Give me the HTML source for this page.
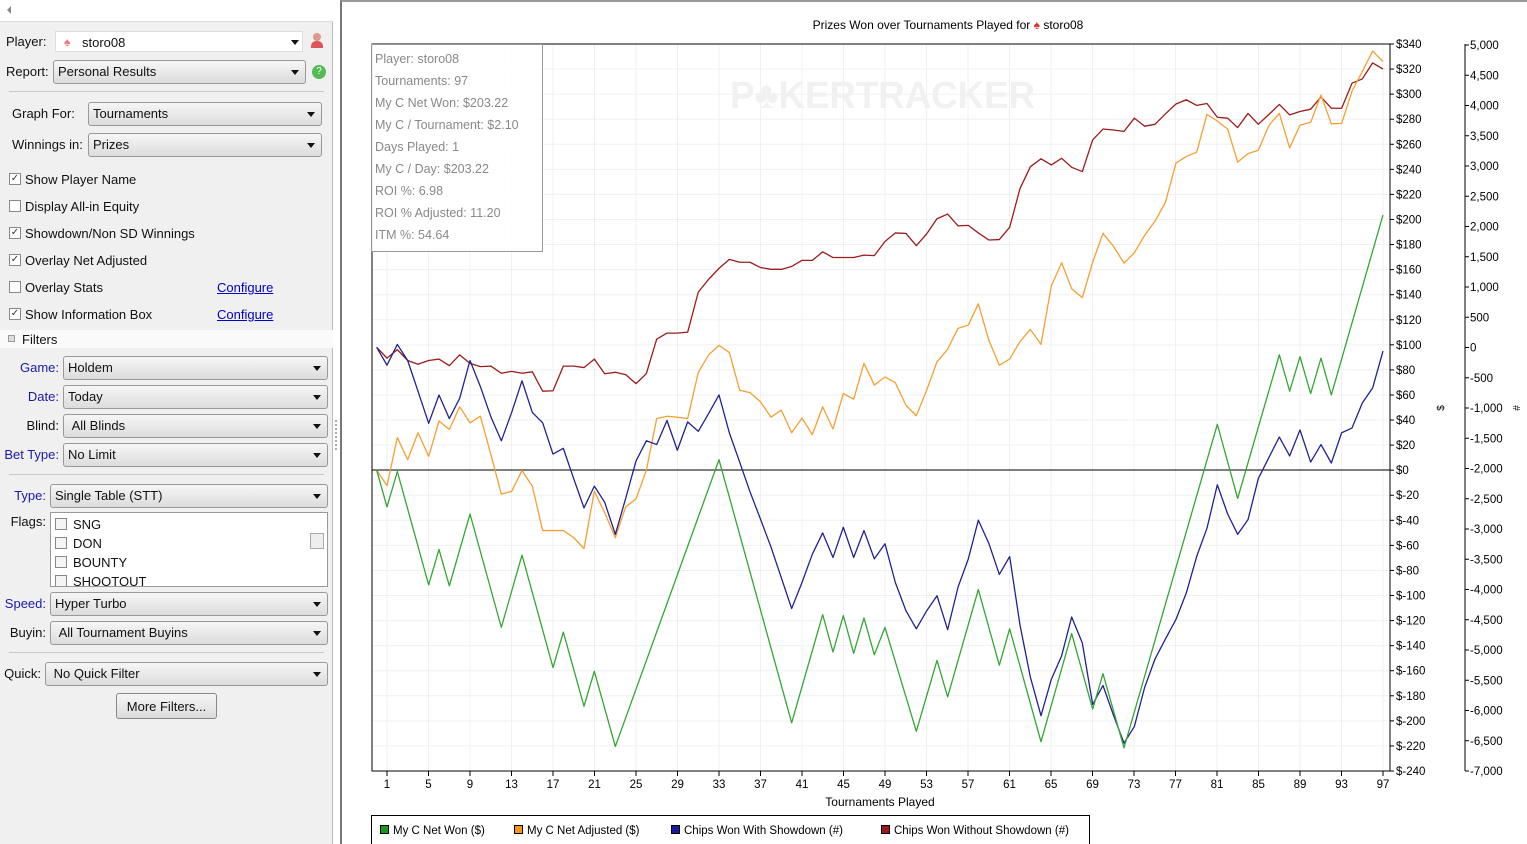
<!DOCTYPE html>
<html><head><meta charset="utf-8"><style>
*{box-sizing:border-box;margin:0;padding:0}
body{width:1527px;height:844px;overflow:hidden;background:#fff;font-family:"Liberation Sans",sans-serif;font-size:13px;color:#111;position:relative}
#lp{position:absolute;left:0;top:0;width:333px;height:844px;background:#f0f0f0;border-right:1px solid #bbb}
.a{position:absolute;white-space:nowrap}
.cb{position:absolute;height:24px;border:1px solid #999;border-radius:3px;background:linear-gradient(#f6f6f6,#dcdcdc);padding:3px 0 0 4px}
.cb:after{content:"";position:absolute;right:6px;top:9px;border-left:4px solid transparent;border-right:4px solid transparent;border-top:5px solid #111}
.lbl{position:absolute;text-align:right}
.blue{color:#1a1aa8}
.ck{position:absolute;width:12px;height:12px;border:1px solid #888;background:#fff;font-size:10px;line-height:10px;text-align:center;color:#334}
.sep{position:absolute;left:9px;width:315px;height:1px;background:#c8c8c8}
.lnk{position:absolute;color:#00c;text-decoration:underline}
</style></head><body>
<div id="lp">
<div class="a" style="left:0;top:0;width:333px;height:22px;background:#fff;border-bottom:1px solid #ddd"></div>
<div class="a" style="left:7px;top:6px;border-top:4px solid transparent;border-bottom:4px solid transparent;border-right:4px solid #888"></div>
<div class="a" style="left:6px;top:34px">Player:</div>
<div class="a" style="left:55px;top:31px;width:248px;height:21px;background:#fff;border:1px solid #ddd;padding:3px 0 0 26px">storo08</div>
<div class="a" style="left:64px;top:35px;color:#e77;font-size:12px">♠</div>
<div class="a" style="left:291px;top:40px;border-left:4px solid transparent;border-right:4px solid transparent;border-top:5px solid #111"></div>
<div class="a" style="left:311px;top:33px;width:12px;height:16px;"><div style="width:8px;height:8px;border-radius:4px;background:#d98;margin-left:2px"></div><div style="width:12px;height:7px;border-radius:5px 5px 0 0;background:#d55"></div></div>
<div class="a" style="left:6px;top:64px">Report:</div>
<div class="cb" style="left:53px;top:60px;width:253px">Personal Results</div>
<div class="a" style="left:312px;top:65px;width:14px;height:14px;border-radius:7px;background:#5b5;color:#fff;font-size:10px;text-align:center;line-height:14px">?</div>
<div class="sep" style="top:91px"></div>
<div class="a" style="left:12px;top:106px">Graph For:</div>
<div class="cb" style="left:88px;top:102px;width:234px">Tournaments</div>
<div class="a" style="left:12px;top:137px">Winnings in:</div>
<div class="cb" style="left:88px;top:133px;width:234px">Prizes</div>
<div class="ck" style="left:9px;top:173px">✓</div><div class="a" style="left:25px;top:172px">Show Player Name</div>
<div class="ck" style="left:9px;top:200px"></div><div class="a" style="left:25px;top:199px">Display All-in Equity</div>
<div class="ck" style="left:9px;top:227px">✓</div><div class="a" style="left:25px;top:226px">Showdown/Non SD Winnings</div>
<div class="ck" style="left:9px;top:254px">✓</div><div class="a" style="left:25px;top:253px">Overlay Net Adjusted</div>
<div class="ck" style="left:9px;top:281px"></div><div class="a" style="left:25px;top:280px">Overlay Stats</div>
<div class="lnk" style="left:217px;top:280px">Configure</div>
<div class="ck" style="left:9px;top:308px">✓</div><div class="a" style="left:25px;top:307px">Show Information Box</div>
<div class="lnk" style="left:217px;top:307px">Configure</div>
<div class="a" style="left:0;top:330px;width:333px;height:18px;background:#fafafa"></div>
<div class="a" style="left:8px;top:335px;width:7px;height:7px;border:1px solid #999;background:#ddd"></div>
<div class="a" style="left:22px;top:332px">Filters</div>
<div class="lbl blue" style="left:0;width:59px;top:360px">Game:</div>
<div class="cb" style="left:63px;top:356px;width:265px">Holdem</div>
<div class="lbl blue" style="left:0;width:59px;top:389px">Date:</div>
<div class="cb" style="left:63px;top:385px;width:265px">Today</div>
<div class="lbl" style="left:0;width:59px;top:418px">Blind:</div>
<div class="cb" style="left:63px;top:414px;width:265px">&nbsp;All Blinds</div>
<div class="lbl blue" style="left:0;width:59px;top:447px">Bet Type:</div>
<div class="cb" style="left:63px;top:443px;width:265px">No Limit</div>
<div class="sep" style="top:474px"></div>
<div class="lbl blue" style="left:0;width:46px;top:488px">Type:</div>
<div class="cb" style="left:50px;top:484px;width:278px">Single Table (STT)</div>
<div class="lbl" style="left:0;width:46px;top:514px">Flags:</div>
<div class="a" style="left:50px;top:512px;width:278px;height:75px;background:#fff;border:1px solid #999;overflow:hidden">
<div class="ck" style="left:4px;top:5px;background:#f4f4f4"></div><div class="a" style="left:22px;top:4px">SNG</div>
<div class="ck" style="left:4px;top:24px;background:#f4f4f4"></div><div class="a" style="left:22px;top:23px">DON</div>
<div class="ck" style="left:4px;top:43px;background:#f4f4f4"></div><div class="a" style="left:22px;top:42px">BOUNTY</div>
<div class="ck" style="left:4px;top:62px;background:#f4f4f4"></div><div class="a" style="left:22px;top:61px">SHOOTOUT</div>
<div class="a" style="left:259px;top:20px;width:14px;height:16px;border:1px solid #aaa;background:#eee"></div>
</div>
<div class="lbl blue" style="left:0;width:46px;top:596px">Speed:</div>
<div class="cb" style="left:50px;top:592px;width:278px">Hyper Turbo</div>
<div class="lbl" style="left:0;width:46px;top:625px">Buyin:</div>
<div class="cb" style="left:50px;top:621px;width:278px">&nbsp;All Tournament Buyins</div>
<div class="sep" style="top:652px"></div>
<div class="lbl" style="left:0;width:41px;top:666px">Quick:</div>
<div class="cb" style="left:45px;top:662px;width:283px">&nbsp;No Quick Filter</div>
<div class="a" style="left:116px;top:693px;width:101px;height:26px;border:1px solid #888;border-radius:3px;background:linear-gradient(#f6f6f6,#dcdcdc);text-align:center;padding-top:5px">More Filters...</div>
</div>
<div class="a" style="left:335px;top:420px;width:2px;height:30px;border-left:2px dotted #aaa"></div>
<div class="a" style="left:340px;top:0;width:1187px;height:844px;border-left:2px solid #777;border-top:2px solid #999"></div>

<svg class="a" style="left:0;top:0" width="1527" height="844" font-family="Liberation Sans, sans-serif">
<g stroke="#f0f0f0" stroke-width="1" id="grid"></g>
<text x="730" y="108" font-size="38" font-weight="bold" fill="#f1f1f1" textLength="305" lengthAdjust="spacingAndGlyphs">P♣KERTRACKER</text>
<line x1="372" y1="470" x2="1390" y2="470" stroke="#000" stroke-width="1"/>
<g transform="translate(370,39.28) scale(0.33333,0.47237)" fill="none" stroke-width="1.3" stroke-linejoin="round">
<polyline vector-effect="non-scaling-stroke" stroke="#9b1c1c" points="20,652 51,675 82,657 113,680 144,688 176,680 207,677 238,691 269,668 300,686 331,693 363,692 394,707 425,703 456,707 487,704 518,745 549,744 580,692 611,692 642,695 673,677 704,708 736,705 767,710 798,729 829,708 860,635 891,622 922,622 953,620 985,535 1016,508 1047,485 1078,466 1109,472 1140,472 1171,483 1203,487 1234,487 1265,481 1296,468 1327,468 1358,450 1389,462 1420,462 1451,462 1482,457 1513,458 1545,428 1576,410 1608,411 1639,437 1670,412 1701,380 1733,370 1764,395 1795,394 1825,410 1857,425 1888,424 1919,398 1950,316 1981,270 2013,253 2044,266 2075,252 2105,271 2137,280 2168,213 2199,190 2230,192 2262,195 2293,167 2324,184 2355,180 2386,158 2418,137 2449,128 2480,140 2511,136 2542,165 2573,167 2603,187 2634,157 2665,180 2697,159 2728,138 2759,160 2790,153 2822,148 2853,122 2884,146 2915,146 2946,93 2977,84 3008,50 3039,63"/>
<polyline vector-effect="non-scaling-stroke" stroke="#f5a034" points="20,912 51,945 82,843 113,890 144,833 176,883 207,808 238,826 269,778 300,812 331,798 363,880 394,963 425,957 456,913 487,946 518,1040 549,1040 580,1040 611,1055 642,1078 673,957 704,1002 736,1055 767,990 798,973 829,913 860,803 891,798 922,800 953,803 985,705 1016,668 1047,648 1078,663 1109,743 1140,748 1171,767 1203,800 1234,785 1265,833 1296,802 1327,837 1358,778 1389,825 1420,750 1451,762 1482,686 1513,732 1545,715 1576,727 1608,775 1639,797 1670,743 1701,683 1733,656 1764,612 1795,605 1825,560 1857,638 1888,690 1919,677 1950,640 1981,614 2013,646 2044,522 2075,473 2105,528 2137,547 2168,472 2199,411 2230,438 2262,474 2293,452 2324,415 2355,385 2386,346 2418,262 2449,248 2480,239 2511,159 2542,173 2573,190 2603,260 2634,242 2665,235 2697,182 2728,157 2759,230 2790,182 2822,176 2853,118 2884,179 2915,178 2946,110 2977,68 3008,25 3039,47"/>
<polyline vector-effect="non-scaling-stroke" stroke="#22228f" points="20,652 51,690 82,646 113,680 144,745 176,813 207,753 238,803 269,760 300,680 331,735 363,800 394,850 425,790 456,723 487,790 518,812 549,878 580,866 611,930 642,992 673,946 704,980 736,1048 767,972 798,893 829,850 860,858 891,807 922,870 953,810 985,830 1016,792 1047,753 1078,833 1109,895 1140,958 1171,1015 1203,1075 1234,1140 1265,1205 1296,1150 1327,1090 1358,1045 1389,1097 1420,1033 1451,1097 1482,1040 1513,1100 1545,1068 1576,1150 1608,1210 1639,1248 1670,1210 1701,1178 1733,1250 1764,1160 1795,1100 1825,1018 1857,1068 1888,1133 1919,1095 1950,1240 1981,1350 2013,1432 2044,1355 2075,1305 2105,1223 2137,1278 2168,1408 2199,1368 2230,1430 2262,1490 2293,1455 2324,1372 2355,1312 2386,1270 2418,1228 2449,1172 2480,1095 2511,1035 2542,943 2573,1005 2603,1048 2634,1017 2665,930 2697,885 2728,842 2759,882 2790,827 2822,895 2853,858 2884,897 2915,833 2946,823 2977,770 3008,738 3039,660"/>
<polyline vector-effect="non-scaling-stroke" stroke="#35a535" points="20,912 51,990 82,915 176,1155 207,1080 238,1157 300,1005 394,1245 456,1092 549,1330 580,1255 642,1412 673,1338 736,1497 1047,890 1265,1447 1358,1218 1389,1297 1420,1220 1451,1300 1482,1225 1513,1303 1545,1245 1639,1465 1701,1315 1733,1392 1825,1165 1888,1325 1919,1248 2013,1487 2105,1258 2168,1418 2199,1343 2262,1500 2542,815 2603,972 2728,668 2759,745 2790,672 2822,750 2853,675 2884,753 3039,372"/>
</g>
<rect x="372" y="44" width="1018" height="727" fill="none" stroke="#000" stroke-width="1"/>
<rect x="371.5" y="44.5" width="171" height="207" fill="#fff" fill-opacity="0.85" stroke="#999"/>
<g font-size="12.5" fill="#888">
<text x="375" y="63">Player: storo08</text><text x="375" y="85">Tournaments: 97</text><text x="375" y="107">My C Net Won: $203.22</text><text x="375" y="129">My C / Tournament: $2.10</text><text x="375" y="151">Days Played: 1</text><text x="375" y="173">My C / Day: $203.22</text><text x="375" y="195">ROI %: 6.98</text><text x="375" y="217">ROI % Adjusted: 11.20</text><text x="375" y="239">ITM %: 54.64</text>
</g>
<text x="948" y="29" font-size="12" text-anchor="middle">Prizes Won over Tournaments Played for <tspan fill="#d33">♠</tspan> storo08</text>
<g id="xt" font-size="11.5" text-anchor="middle"></g>
<text x="880" y="806" font-size="12" text-anchor="middle">Tournaments Played</text>
<line x1="1465" y1="44" x2="1465" y2="771" stroke="#000"/>
<g id="yt" font-size="11.5"></g>
<text x="1444" y="408" font-size="10" transform="rotate(-90 1444 408)" text-anchor="middle">$</text>
<text x="1520" y="408" font-size="10" transform="rotate(-90 1520 408)" text-anchor="middle">#</text>
<rect x="371.5" y="815.5" width="718" height="34" fill="#fff" stroke="#000"/>
<g font-size="11.5">
<rect x="380.5" y="825.5" width="8" height="8" fill="#1a9a1a" stroke="#000"/><text x="393" y="834">My C Net Won ($)</text>
<rect x="514.5" y="825.5" width="8" height="8" fill="#f7941d" stroke="#000"/><text x="527" y="834">My C Net Adjusted ($)</text>
<rect x="671.5" y="825.5" width="8" height="8" fill="#1a1a9a" stroke="#000"/><text x="684" y="834">Chips Won With Showdown (#)</text>
<rect x="881.5" y="825.5" width="8" height="8" fill="#9a1a1a" stroke="#000"/><text x="894" y="834">Chips Won Without Showdown (#)</text>
</g>
</svg>
<script>
var ns="http://www.w3.org/2000/svg";
function el(p,t,a,txt){var e=document.createElementNS(ns,t);for(var k in a)e.setAttribute(k,a[k]);if(txt!=null)e.textContent=txt;document.getElementById(p).appendChild(e);}
for(var k=0;k<=24;k++){var x=387+4*k*10.375;el("grid","line",{x1:x,y1:44,x2:x,y2:771});el("grid","line",{x1:x,y1:771,x2:x,y2:776,stroke:"#000"});el("xt","text",{x:x,y:788},String(1+4*k));}
for(var i=0;i<=29;i++){var y=44+i*727/29;el("grid","line",{x1:372,y1:y,x2:1390,y2:y});el("grid","line",{x1:1390,y1:y,x2:1394,y2:y,stroke:"#000"});var v=340-20*i;el("yt","text",{x:1396,y:y+4},(v<0?"$-"+(-v):"$"+v));}
for(var j=0;j<=24;j++){var y2=45+j*726/24;el("grid","line",{x1:1465,y1:y2,x2:1469,y2:y2,stroke:"#000"});var w=5000-500*j;el("yt","text",{x:1470,y:y2+4},w.toLocaleString("en-US"));}
</script>
</body></html>
